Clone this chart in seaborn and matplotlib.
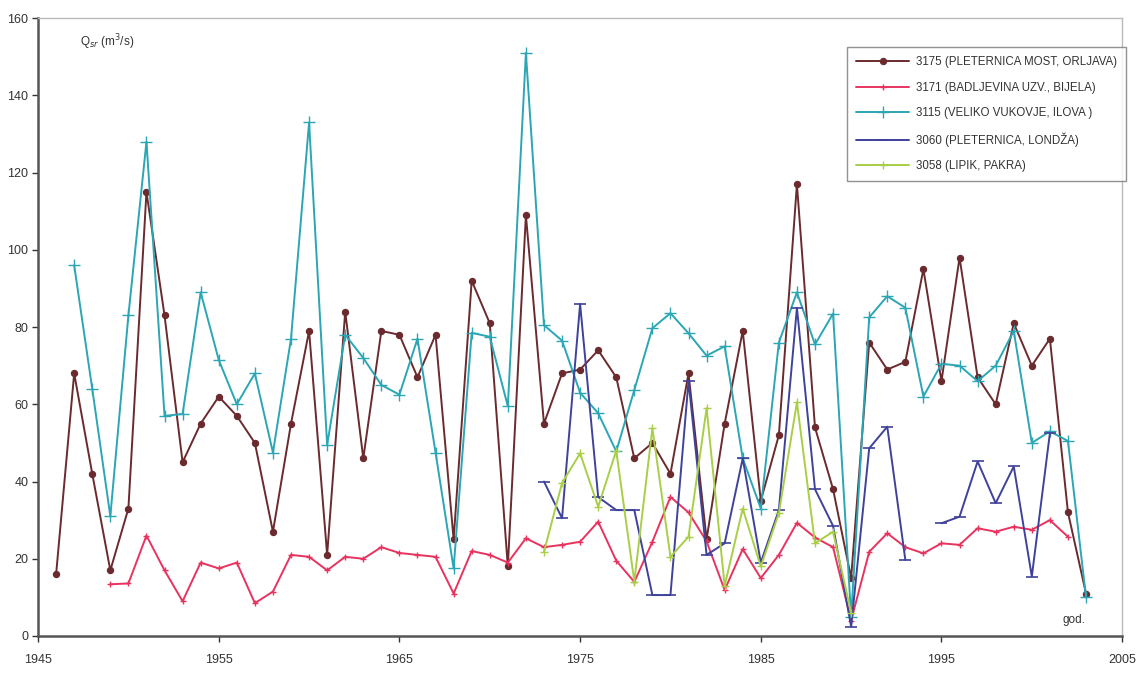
import numpy as np
import pandas as pd
import matplotlib
matplotlib.use("Agg")
import matplotlib.pyplot as plt
import seaborn as sns

# Mean annual discharge series per gauging station
years_3175 = list(range(1946, 2004))
q_3175 = [16, 68, 42, 17, 33, 115, 83, 45, 55, 62, 57, 50, 27, 55, 79, 21, 84, 46, 79, 78,
          67, 78, 25, 92, 81, 18, 109, 55, 68, 69, 74, 67, 46, 50, 42, 68, 25, 55, 79, 35,
          52, 117, 54, 38, 15, 76, 69, 71, 95, 66, 98, 67, 60, 81, 70, 77, 32, 11]

years_3171 = list(range(1949, 2003))
q_3171 = [13.4, 13.6, 26, 17, 9, 19, 17.5, 19, 8.5, 11.5,
          21, 20.5, 17, 20.5, 20, 23, 21.5, 21, 20.5, 11,
          22, 21, 19, 25.3, 23, 23.6, 24.4, 29.6, 19.5, 14,
          24.4, 36, 32, 24.5, 11.9, 22.5, 15, 21, 29.3, 25.5,
          23, 4, 21.8, 26.6, 23, 21.4, 24, 23.6, 27.9, 27,
          28.3, 27.5, 30, 25.7]

years_3115 = list(range(1947, 2004))
q_3115 = [96, 64, 31, 83, 128, 57, 57.5, 89, 71.5, 60,
          68, 47.5, 77, 133, 49.5, 78, 72, 65, 62.5, 77,
          47.5, 17.5, 78.5, 77.5, 59.5, 151, 80.5, 76.5, 63, 57.7,
          47.8, 63.7, 79.7, 83.6, 78.4, 72.6, 75, 46, 33, 76,
          89, 75.5, 83.5, 5, 82.5, 88, 85, 62, 70.5, 70,
          66, 70, 79, 50, 53, 50.5, 10]

years_3060 = list(range(1973, 2002))
q_3060 = [40, 30.5, 86, 36, 32.6, 32.6, 10.6, 10.6, 66, 21,
          24, 46, 19, 32.6, 85, 38, 28.5, 2.4, 48.6, 54.2,
          19.7, np.nan, 29.2, 30.9, 45.2, 34.4, 43.9, 15.4, 52.5]

years_3058 = list(range(1973, 1991))
q_3058 = [21.8, 39.6, 47.3, 33.5, 48, 14.1, 53.8, 20.5, 25.7, 59,
          13, 33, 18, 31.8, 60.5, 24, 27, 6]

stations = [
    ("3175 (PLETERNICA MOST, ORLJAVA)", years_3175, q_3175),
    ("3171 (BADLJEVINA UZV., BIJELA)", years_3171, q_3171),
    ("3115 (VELIKO VUKOVJE, ILOVA )", years_3115, q_3115),
    ("3060 (PLETERNICA, LONDŽA)", years_3060, q_3060),
    ("3058 (LIPIK, PAKRA)", years_3058, q_3058),
]

styles = {
    "3175": dict(color="#6B2A2E", marker="o", markersize=4.5, markeredgewidth=0.8),
    "3171": dict(color="#E8335F", marker="+", markersize=5, markeredgewidth=1.0),
    "3115": dict(color="#2AA6B4", marker="+", markersize=8, markeredgewidth=1.0),
    "3060": dict(color="#3E429A", marker="_", markersize=8, markeredgewidth=1.2),
    "3058": dict(color="#A8CF45", marker="+", markersize=6, markeredgewidth=1.0),
}

sns.set_style("white")
plt.rcParams["font.family"] = ["Liberation Sans", "DejaVu Sans"]

fig = plt.figure(figsize=(11.46, 6.73), dpi=100)
ax = fig.add_axes([0.0332, 0.055, 0.946, 0.918])

for label, yrs, vals in stations:
    key = label.split()[0]
    st = styles[key]
    df = pd.DataFrame({"year": yrs, "q": vals})
    # split the series at missing years so the line shows a gap
    df["seg"] = df["q"].isna().cumsum()
    df = df.dropna()
    for i, (_, part) in enumerate(df.groupby("seg")):
        sns.lineplot(data=part, x="year", y="q", ax=ax, color=st["color"],
                     linewidth=1.4, marker=st["marker"], markersize=st["markersize"],
                     markeredgewidth=st["markeredgewidth"], markeredgecolor=st["color"],
                     markerfacecolor=st["color"], estimator=None, sort=False,
                     label=label if i == 0 else None, legend=False)

ax.set_xlim(1945, 2005)
ax.set_ylim(0, 160)
ax.set_xticks(range(1945, 2006, 10))
ax.set_yticks(range(0, 161, 20))
ax.set_xlabel("")
ax.set_ylabel("")
ax.tick_params(axis="both", labelsize=9, colors="#333333", length=4, width=1)
ax.tick_params(axis="x", pad=9, direction="out")
ax.tick_params(axis="y", pad=3, direction="out")
ax.xaxis.set_ticks_position("bottom")
ax.yaxis.set_ticks_position("left")

for side in ("left", "bottom"):
    ax.spines[side].set_color("#555555")
    ax.spines[side].set_linewidth(1.8)
for side in ("top", "right"):
    ax.spines[side].set_color("#BBBBBB")
    ax.spines[side].set_linewidth(1.0)

ax.text(0.039, 0.961, r"Q$_{sr}$ (m$^3$/s)", transform=ax.transAxes,
        fontsize=8.5, va="center", ha="left", color="#333333")
ax.text(0.945, 0.026, "god.", transform=ax.transAxes,
        fontsize=8.5, va="center", ha="left", color="#333333")

leg = ax.legend(loc="upper right", bbox_to_anchor=(1.004, 0.953), fontsize=8.3,
                frameon=True, fancybox=False, edgecolor="#777777",
                labelspacing=1.15, handlelength=4.6, borderpad=0.8,
                handletextpad=0.6, borderaxespad=0.0)
leg.get_frame().set_linewidth(1.0)
for t in leg.get_texts():
    t.set_color("#333333")

fig.savefig("out.png", dpi=100, facecolor="white")
